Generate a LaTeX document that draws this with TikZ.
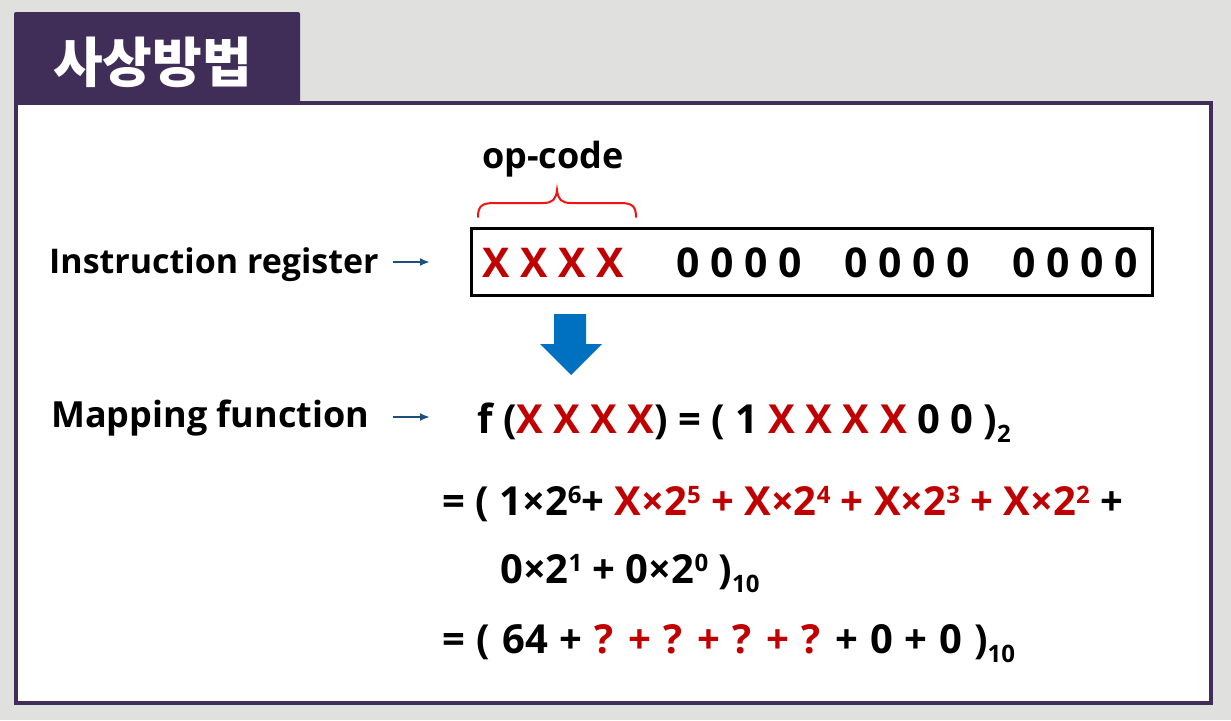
\documentclass[tikz,border=0pt]{standalone}
\usepackage{fontspec}
\setmainfont{Open Sans}
\newfontfamily\krfont{Noto Sans CJK KR}
\usetikzlibrary{arrows.meta}
\definecolor{pagegray}{RGB}{224,224,222}
\definecolor{tabpurple}{RGB}{64,46,88}
\definecolor{xred}{RGB}{192,0,0}
\definecolor{bracered}{RGB}{240,20,20}
\definecolor{navyline}{RGB}{31,78,121}
\definecolor{blockblue}{RGB}{0,112,192}
\newcommand{\rx}[1]{\textcolor{xred}{#1}}
\newcommand{\upidx}[1]{\raisebox{0.3em}{\fontsize{24}{24}\selectfont #1}}
\newcommand{\dnidx}[1]{\raisebox{-0.24em}{\fontsize{24}{24}\selectfont #1}}
\begin{document}
\begin{tikzpicture}[x=1pt,y=-1pt,
  lbl/.style={inner sep=0pt, anchor=base west, font=\bfseries\fontsize{34}{40}\selectfont},
  eq/.style={inner sep=0pt, anchor=base west, font=\bfseries\fontsize{40}{44}\selectfont},
  reg/.style={inner sep=0pt, anchor=base, font=\bfseries\fontsize{41}{44}\selectfont},
  pointer/.style={draw=navyline, line width=2pt, -{Latex[length=10pt,width=8pt]}},
  brace/.style={draw=bracered, line width=2pt, line cap=round}]
  % page and frame
  \useasboundingbox (0,0) rectangle (1231,720);
  \fill[pagegray] (0,0) rectangle (1231,720);
  \fill[tabpurple, rounded corners=2pt] (14,12) rectangle (300,104);
  \filldraw[fill=white, draw=tabpurple, line width=4pt] (16,103) rectangle (1211,703);
  \node[inner sep=0pt, anchor=base west, text=white, font=\krfont\bfseries\fontsize{54}{60}\selectfont] (title) at (53,82) {사상방법};

  % instruction register
  \node[lbl] (irlbl) at (49,273) {Instruction register};
  \coordinate (ira) at (393,262);
  \coordinate (irb) at (430,262);
  \draw[pointer] (ira) -- (irb);
  \draw[line width=3pt] (471,228) rectangle (1152,295);
  \node[reg, text=xred] (opx) at (553,277) {X X X X};
  \node[reg] (g1) at (739,277) {0 0 0 0};
  \node[reg] (g2) at (907,277) {0 0 0 0};
  \node[reg] (g3) at (1075,277) {0 0 0 0};

  % op-code brace
  \node[inner sep=0pt, anchor=base, font=\bfseries\fontsize{36}{40}\selectfont] (opc) at (553,168) {op-code};
  \draw[brace] (478,217) .. controls (478,206) and (482,203) .. (494,203) -- (543,203)
    .. controls (553,203) and (556,199) .. (557,190)
    .. controls (558,199) and (561,203) .. (571,203) -- (620,203)
    .. controls (632,203) and (636,206) .. (636,217);

  % block arrow
  \fill[blockblue] (554,314) -- (586,314) -- (586,344) -- (602,344) -- (571,375)
    -- (540,344) -- (554,344) -- cycle;

  % mapping function
  \node[lbl, font=\bfseries\fontsize{36}{42}\selectfont] (mflbl) at (51,427) {Mapping function};
  \coordinate (mfa) at (393,417);
  \coordinate (mfb) at (430,417);
  \draw[pointer] (mfa) -- (mfb);

  \node[eq] (l1) at (477,433) {f (\rx{X X X X}) = ( 1 \rx{X X X X} 0 0 )\dnidx{2}};
  \node[eq] (l2) at (442,515) {= ( 1×2\upidx{6}+ \rx{X×2\upidx{5} + X×2\upidx{4} + X×2\upidx{3} + X×2\upidx{2}} +};
  \node[eq] (l3) at (500,583) {0×2\upidx{1} + 0×2\upidx{0} )\dnidx{10}};
  \node[eq] (l4) at (442,653) {\spaceskip=11.8pt = ( 64 + \rx{? + ? + ? + ?} + 0 + 0 )\dnidx{10}};
\end{tikzpicture}
\end{document}
